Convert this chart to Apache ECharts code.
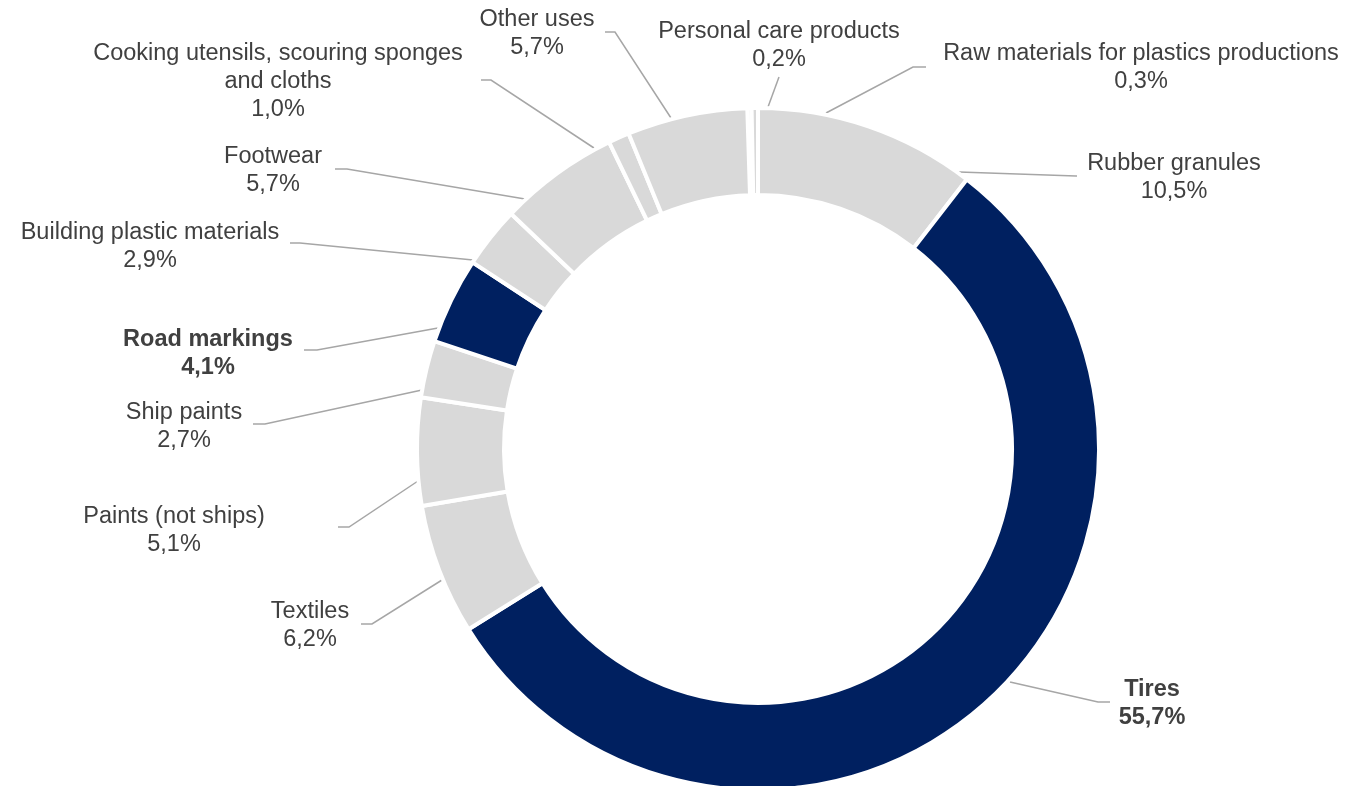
<!DOCTYPE html>
<html>
<head>
<meta charset="utf-8">
<title>Sources of microplastics</title>
<script src="https://cdn.jsdelivr.net/npm/echarts/dist/echarts.min.js"></script>
<style>
  html, body { margin: 0; padding: 0; background: #fff; }
  #chart { width: 1365px; height: 786px; }
</style>
</head>
<body>
<div id="chart"></div>
<script>
// categories, clockwise from just left of 12 o'clock
var categories = [
  'Personal care products',
  'Raw materials for plastics productions',
  'Rubber granules',
  'Tires',
  'Textiles',
  'Paints (not ships)',
  'Ship paints',
  'Road markings',
  'Building plastic materials',
  'Footwear',
  'Cooking utensils, scouring sponges\nand cloths',
  'Other uses'
];
var shares = [0.2, 0.3, 10.5, 55.7, 6.2, 5.1, 2.7, 4.1, 2.9, 5.7, 1.0, 5.7];
var highlighted = ['Tires', 'Road markings'];

// label placement (text block centre) and leader lines, Excel style
var labelCenter = [
  [779, 46], [1141, 68], [1174, 178], [1152, 704], [310, 626], [174, 531],
  [184, 427], [208, 354], [150, 247], [273, 171], [278, 82], [537, 34]
];
var leader = [
  [[768, 107], [779, 77], [779, 77]],
  [[826, 113], [913, 67], [926, 67]],
  [[959, 172], [1076, 176], [1077, 176]],
  [[1010, 682], [1098, 702], [1110, 702]],
  [[442, 580], [372, 624], [361, 624]],
  [[418, 481], [349, 527], [338, 527]],
  [[422, 390], [265, 424], [253, 424]],
  [[438, 328], [317, 350], [304, 350]],
  [[473, 260], [300, 243], [290, 243]],
  [[525, 199], [347, 169], [335, 169]],
  [[594, 148], [491, 80], [481, 80]],
  [[671, 118], [615, 32], [605, 32]]
];

var NAVY = '#002060';
var GREY = '#D9D9D9';

var pieData = categories.map(function (name, i) {
  var hl = highlighted.indexOf(name) >= 0;
  return {
    name: name,
    value: shares[i],
    itemStyle: { color: hl ? NAVY : GREY },
    label: { fontWeight: hl ? 'bold' : 'normal' }
  };
});

var chart = echarts.init(document.getElementById('chart'));
chart.setOption({
  animation: false,
  backgroundColor: '#fff',
  series: [{
    type: 'pie',
    center: [758, 449],
    radius: [254, 341],
    startAngle: 91.8,
    clockwise: true,
    avoidLabelOverlap: false,
    itemStyle: { borderColor: '#fff', borderWidth: 4 },
    label: {
      show: true,
      fontFamily: 'Liberation Sans, Arial, sans-serif',
      fontSize: 23.5,
      lineHeight: 28,
      color: '#404040',
      formatter: function (p) {
        return p.name + '\n' + p.value.toFixed(1).replace('.', ',') + '%';
      }
    },
    labelLine: {
      show: true,
      lineStyle: { color: '#A6A6A6', width: 1.5 }
    },
    labelLayout: function (params) {
      var i = params.dataIndex;
      return {
        x: labelCenter[i][0],
        y: labelCenter[i][1],
        align: 'center',
        verticalAlign: 'middle',
        labelLinePoints: leader[i]
      };
    },
    emphasis: { disabled: true },
    data: pieData
  }]
});
</script>
</body>
</html>
